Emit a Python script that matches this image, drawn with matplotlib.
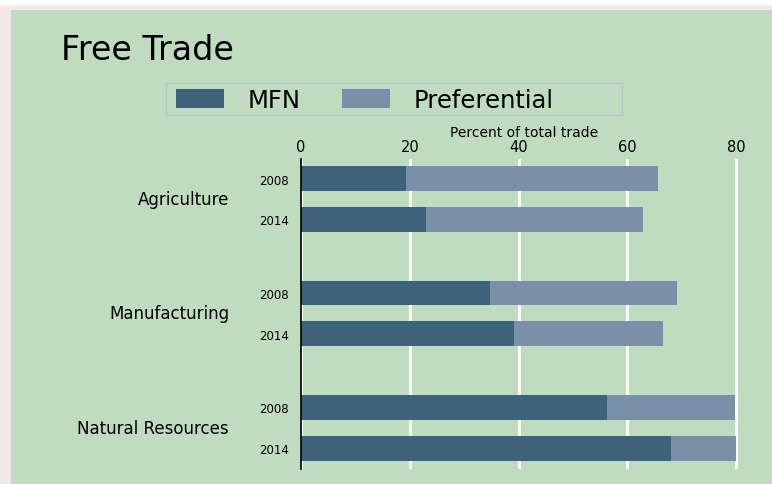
import matplotlib.pyplot as plt
from matplotlib.patches import Rectangle, Patch
import matplotlib.transforms as mtransforms

# data (percent of total trade)
sectors = ["Agriculture", "Manufacturing", "Natural Resources"]
years = ["2008", "2014"]
mfn = [[19.4, 23.0], [34.8, 39.1], [56.2, 68.1]]
total = [[65.7, 62.8], [69.2, 66.5], [79.8, 80.0]]
xticks = [0, 20, 40, 60, 80]

BG = "#c0dcc0"
MFN_C = "#3d6279"
PREF_C = "#7a90a8"

plt.rcParams['font.family'] = ['DejaVu Sans']

W, H = 772, 485
fig = plt.figure(figsize=(W / 100, H / 100), dpi=100)
fig.patch.set_facecolor("#f6e8e8")
# green plot region and white strip on top (cropped screenshot)
fig.patches.append(Rectangle((11 / W, 0), 1, 1 - 11 / H, transform=fig.transFigure,
                             facecolor=BG, edgecolor="none", zorder=-2))
fig.patches.append(Rectangle((0, 1 - 6 / H), 1, 6 / H, transform=fig.transFigure,
                             facecolor="white", edgecolor="none", zorder=-2))
# legend box
fig.patches.append(Rectangle((166 / W, 1 - 116 / H), 456 / W, 32 / H, transform=fig.transFigure,
                             facecolor="none", edgecolor="#b6c6cf", linewidth=1, zorder=1))

ax = fig.add_axes([301 / W, 15 / H, 447 / W, 310 / H])
ax.set_zorder(2)
ax.set_facecolor(BG)

group_gap = 2.8
bar_h = 0.61
ypos, ylabels = [], []
trans = mtransforms.blended_transform_factory(ax.transAxes, ax.transData)
for g, sec in enumerate(sectors):
    for j, yr in enumerate(years):
        y = g * group_gap + j
        ypos.append(y)
        ylabels.append(yr)
        m = mfn[g][j]
        t = total[g][j]
        ax.barh(y, m, height=bar_h, color=MFN_C, zorder=3)
        ax.barh(y, t - m, left=m, height=bar_h, color=PREF_C, zorder=3)
    ax.text(-0.161, g * group_gap + 0.5, sec, transform=trans, ha="right",
            va="center", fontsize=12)

ax.set_ylim(2 * group_gap + 1 + 0.51, -0.48)
ax.set_xlim(0, 82.2)
ax.set_yticks(ypos)
ax.set_yticklabels(ylabels, fontsize=8.5)
ax.tick_params(axis="y", length=0, pad=9)
ax.xaxis.tick_top()
ax.xaxis.set_label_position("top")
ax.set_xticks(xticks)
ax.set_xticklabels([str(v) for v in xticks], fontsize=10.5)
ax.tick_params(axis="x", length=0, pad=3.5)
ax.set_xlabel("Percent of total trade", fontsize=10, labelpad=2)
ax.grid(axis="x", color="white", linewidth=2, zorder=1)
for s in ["top", "right", "bottom"]:
    ax.spines[s].set_visible(False)
ax.spines["left"].set_color("black")
ax.spines["left"].set_linewidth(1.2)
ax.spines["left"].set_zorder(4)

fig.text(61 / W, 1 - 51 / H, "Free Trade", fontsize=24, va="center", ha="left")

handles = [Patch(facecolor=MFN_C, edgecolor="none"), Patch(facecolor=PREF_C, edgecolor="none")]
leg = fig.legend(handles, ["MFN", "Preferential"], ncol=2, loc="center left",
                 bbox_to_anchor=(166 / W, 1 - 101 / H), fontsize=17.5,
                 handlelength=1.97, handleheight=0.82, handletextpad=0.98,
                 columnspacing=1.7, borderpad=0.41, borderaxespad=0.0, frameon=False)
leg.set_zorder(5)

fig.savefig("out.png", dpi=100, facecolor=fig.get_facecolor())
